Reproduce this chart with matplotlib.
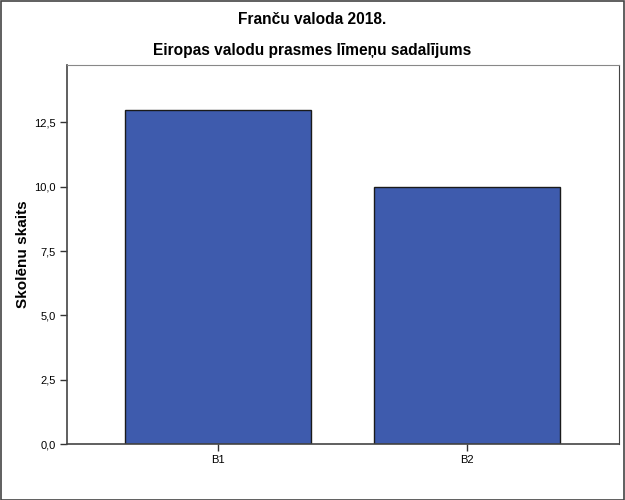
import matplotlib.pyplot as plt
from matplotlib.patches import Rectangle
from matplotlib.ticker import FixedLocator

# data
levels = ['B1', 'B2']
counts = [13, 10]
yticks = [0, 2.5, 5, 7.5, 10, 12.5]
ytick_labels = ['0,0', '2,5', '5,0', '7,5', '10,0', '12,5']

plt.rcParams['font.family'] = ['Liberation Sans', 'DejaVu Sans']

fig = plt.figure(figsize=(6.25, 5), dpi=100)
W, H = 625, 500
ax = fig.add_axes([67 / W, 1 - 444 / H, (619 - 67) / W, (444 - 65) / H])

x = list(range(len(levels)))
ax.bar(x, counts, width=0.75, color='#3e5bad', edgecolor='#1a1a1a', linewidth=1.0, zorder=2)

ax.set_xlim(-0.606, 1.61)
ax.set_ylim(0, 14.73)
ax.set_xticks(x)
ax.set_xticklabels(levels, fontsize=8)
ax.yaxis.set_major_locator(FixedLocator(yticks))
ax.set_yticklabels(ytick_labels, fontsize=8)
ax.tick_params(axis='both', direction='out', length=5, width=1, color='#333333', pad=3)

for side in ['left', 'bottom']:
    ax.spines[side].set_color('#444444')
    ax.spines[side].set_linewidth(1.2)
ax.spines['top'].set_color('#888888')
ax.spines['right'].set_color('#444444')

ax.set_ylabel('Skolēnu skaits', fontsize=11, fontweight='bold')
ax.yaxis.set_label_coords((30 - 67) / (619 - 67), 0.5)

fig.text(0.5, 1 - 20 / H, 'Franču valoda 2018.', ha='center', va='center',
         fontsize=11.2, fontweight='bold')
fig.text(0.5, 1 - 51 / H, 'Eiropas valodu prasmes līmeņu sadalījums', ha='center', va='center',
         fontsize=11.2, fontweight='bold')

# outer frame
fig.patches.append(Rectangle((0.5 / W, 0.5 / H), 1 - 1.5 / W, 1 - 1.5 / H, transform=fig.transFigure,
                             fill=False, edgecolor='#444444', linewidth=1.2))

fig.savefig('out.png', dpi=100)
